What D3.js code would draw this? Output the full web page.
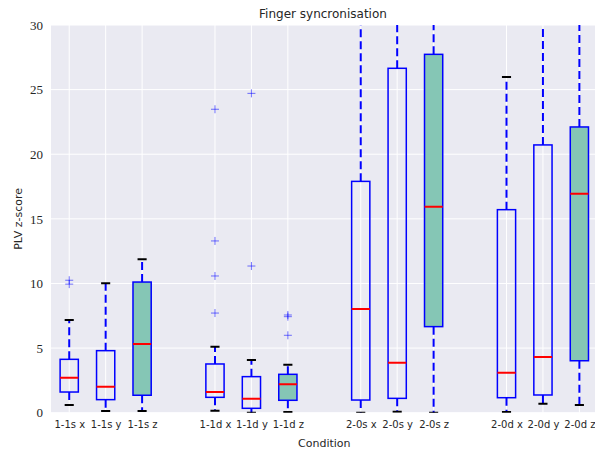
<!DOCTYPE html>
<html><head>
<meta charset="UTF-8"><title>Finger syncronisation</title>
<script src="https://cdn.jsdelivr.net/npm/d3@7/dist/d3.min.js"></script>
<style>
  body { margin:0; background:#fff; }
</style>
</head><body>
<svg id="chart" width="595" height="451"></svg>
<script>
// box statistics
const labels   = ['1-1s x','1-1s y','1-1s z','1-1d x','1-1d y','1-1d z','2-0s x','2-0s y','2-0s z','2-0d x','2-0d y','2-0d z'];
const positions = [1, 2, 3, 5, 6, 7, 9, 10, 11, 13, 14, 15];
const lowCap   = [0.60, 0.13, 0.13, 0.16, 0.00, 0.05, 0.00, 0.08, 0.00, 0.05, 0.70, 0.60];
const q1       = [1.60, 1.01, 1.35, 1.19, 0.34, 0.96, 0.98, 1.11, 6.66, 1.16, 1.37, 4.02];
const medians  = [2.71, 2.01, 5.32, 1.60, 1.08, 2.20, 8.02, 3.87, 15.94, 3.10, 4.31, 16.95];
const q3       = [4.13, 4.80, 10.11, 3.77, 2.79, 2.97, 17.90, 26.65, 27.73, 15.71, 20.72, 22.11];
const highCap  = [7.17, 10.01, 11.88, 5.11, 4.08, 3.72, 38, 38, 38, 25.98, 38, 38];
const fliers   = [[10.25, 9.95], [], [], [23.48, 13.29, 10.58, 7.71], [24.71, 11.35], [7.56, 7.43, 5.99], [], [], [], [], [], []];
const filled   = [false, false, true, false, false, true, false, false, true, false, false, true];
const yTicks   = [0, 5, 10, 15, 20, 25, 30];

const SANS = "'DejaVu Sans', sans-serif";
const SERIF = "'Liberation Serif', serif";
const INK = '#262626';

const svg = d3.select('#chart');
const M = { left: 51, top: 25, right: 597.6, bottom: 412.7 };

const x = d3.scaleLinear().domain([0.5, 15.5]).range([M.left, M.right]);
const y = d3.scaleLinear().domain([0, 30]).range([M.bottom, M.top]);

svg.append('defs').append('clipPath').attr('id', 'plot')
  .append('rect').attr('x', M.left).attr('y', M.top).attr('width', M.right - M.left).attr('height', M.bottom - M.top);

svg.append('rect').attr('x', M.left).attr('y', M.top)
  .attr('width', M.right - M.left).attr('height', M.bottom - M.top).attr('fill', '#eaeaf2');

// grid
const grid = svg.append('g').attr('stroke', '#fff').attr('stroke-width', 1);
grid.selectAll('.gy').data(yTicks).join('line')
  .attr('x1', M.left).attr('x2', M.right).attr('y1', d => y(d)).attr('y2', d => y(d));
grid.selectAll('.gx').data(positions).join('line')
  .attr('x1', d => x(d)).attr('x2', d => x(d)).attr('y1', M.top).attr('y2', M.bottom);

// axes
const yAxis = svg.append('g').attr('transform', `translate(${M.left},0)`)
  .attr('font-family', null)
  .call(d3.axisLeft(y).tickValues(yTicks).tickSize(0).tickPadding(8));
yAxis.attr('font-family', SERIF).attr('font-size', 13);
yAxis.select('.domain').remove();
yAxis.selectAll('text').style('font-family', SERIF).style('font-size', '13px').style('fill', INK);

const xAxis = svg.append('g').attr('transform', `translate(0,${M.bottom})`)
  .call(d3.axisBottom(x).tickValues(positions).tickFormat((d, i) => labels[i]).tickSize(0).tickPadding(8));
xAxis.select('.domain').remove();
xAxis.selectAll('text').style('font-family', SANS).style('font-size', '10px').style('fill', INK);

// boxes
const bw = x(1.25) - x(1);
const cw = x(1.125) - x(1);
const g = svg.append('g').attr('clip-path', 'url(#plot)');
const data = positions.map((p, i) => ({ p, lo: lowCap[i], q1: q1[i], med: medians[i], q3: q3[i], hi: highCap[i], fl: fliers[i], f: filled[i] }));

const b = g.selectAll('g.box').data(data).join('g').attr('class', 'box');
b.append('line').attr('x1', d => x(d.p)).attr('x2', d => x(d.p))
  .attr('y1', d => y(d.q3)).attr('y2', d => y(d.hi))
  .attr('stroke', '#0000ff').attr('stroke-width', 2).attr('stroke-dasharray', '8,4');
b.append('line').attr('x1', d => x(d.p)).attr('x2', d => x(d.p))
  .attr('y1', d => y(d.q1)).attr('y2', d => y(d.lo))
  .attr('stroke', '#0000ff').attr('stroke-width', 2).attr('stroke-dasharray', '8,4');
b.append('line').attr('x1', d => x(d.p) - cw).attr('x2', d => x(d.p) + cw)
  .attr('y1', d => y(d.hi)).attr('y2', d => y(d.hi)).attr('stroke', '#000').attr('stroke-width', 2);
b.append('line').attr('x1', d => x(d.p) - cw).attr('x2', d => x(d.p) + cw)
  .attr('y1', d => y(d.lo)).attr('y2', d => y(d.lo)).attr('stroke', '#000').attr('stroke-width', 2);
b.append('rect').attr('x', d => x(d.p) - bw).attr('width', 2 * bw)
  .attr('y', d => y(d.q3)).attr('height', d => y(d.q1) - y(d.q3))
  .attr('fill', d => d.f ? '#85c6b5' : 'none').attr('stroke', '#0000ff').attr('stroke-width', 1.5);
b.append('line').attr('x1', d => x(d.p) - bw).attr('x2', d => x(d.p) + bw)
  .attr('y1', d => y(d.med)).attr('y2', d => y(d.med)).attr('stroke', '#ff0000').attr('stroke-width', 2);

// fliers
b.each(function (d) {
  d3.select(this).selectAll('path.fl').data(d.fl).join('path').attr('class', 'fl')
    .attr('d', v => `M${x(d.p) - 4},${y(v)}h8M${x(d.p)},${y(v) - 4}v8`)
    .attr('stroke', '#0000ff').attr('stroke-opacity', 0.55).attr('stroke-width', 1);
});

// labels
svg.append('text').attr('x', (M.left + 595) / 2).attr('y', 18)
  .attr('text-anchor', 'middle').style('font-family', SANS).style('font-size', '12px').style('fill', INK)
  .text('Finger syncronisation');
svg.append('text').attr('x', x(8)).attr('y', 447)
  .attr('text-anchor', 'middle').style('font-family', SANS).style('font-size', '11px').style('fill', INK)
  .text('Condition');
svg.append('text').attr('transform', `translate(22,${(M.top + M.bottom) / 2}) rotate(-90)`)
  .attr('text-anchor', 'middle').style('font-family', SANS).style('font-size', '11px').style('fill', INK)
  .text('PLV z-score');
</script>
</body></html>
